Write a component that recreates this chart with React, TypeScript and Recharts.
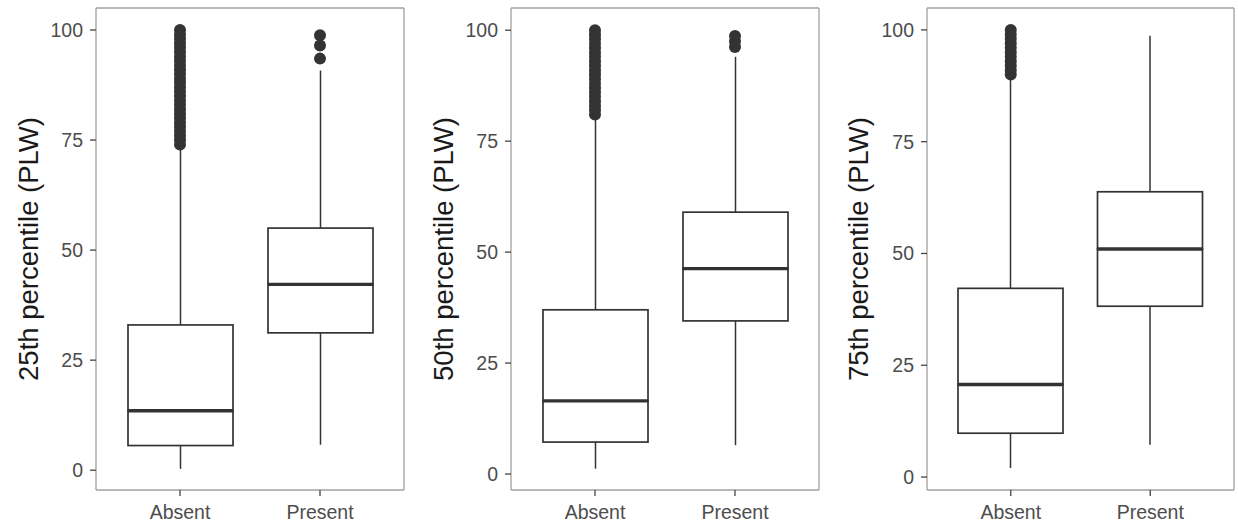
import { ComposedChart, Bar, Scatter, XAxis, YAxis } from "recharts";

const CATEGORIES = ["Absent", "Present"];
const Y_TICKS = [0, 25, 50, 75, 100];

// 25th percentile panel
const P25_LOWER = [0.3, 5.8];
const P25_Q1 = [5.6, 31.2];
const P25_MEDIAN = [13.5, 42.2];
const P25_Q3 = [33, 55];
const P25_UPPER = [73, 90.8];
const P25_OUT_ABSENT = [74, 75, 76, 77, 78, 79, 80, 81, 82, 83, 84, 85, 86, 87, 88, 89, 90, 91, 92, 93, 94, 95, 96, 97, 98, 99, 100];
const P25_OUT_PRESENT = [93.5, 96.5, 98.8];

// 50th percentile panel
const P50_LOWER = [1.2, 6.5];
const P50_Q1 = [7.2, 34.5];
const P50_MEDIAN = [16.5, 46.3];
const P50_Q3 = [37, 59];
const P50_UPPER = [80.5, 94];
const P50_OUT_ABSENT = [81, 82, 83, 84, 85, 86, 87, 88, 89, 90, 91, 92, 93, 94, 95, 96, 97, 98, 99, 100];
const P50_OUT_PRESENT = [96.2, 97.5, 98.7];

// 75th percentile panel
const P75_LOWER = [2, 7.2];
const P75_Q1 = [9.8, 38.2];
const P75_MEDIAN = [20.7, 51];
const P75_Q3 = [42.2, 63.8];
const P75_UPPER = [89.3, 98.7];
const P75_OUT_ABSENT = [90, 91, 92, 93, 94, 95, 96, 97, 98, 99, 100];
const P75_OUT_PRESENT: number[] = [];

const INK = "#333333";
const FRAME = "#a0a0a0";
const TICK = "#444444";
const FONT = "'Liberation Sans', Arial, sans-serif";

function buildRows(lower: number[], q1: number[], med: number[], q3: number[], upper: number[]) {
    return CATEGORIES.map((cat, i) => ({
        cat,
        base: lower[i],
        lowWhisker: q1[i] - lower[i],
        lowBox: med[i] - q1[i],
        highBox: q3[i] - med[i],
        highWhisker: upper[i] - q3[i],
    }));
}

function buildOutliers(absent: number[], present: number[]) {
    return [
        ...absent.map((v) => ({ cat: "Absent", v })),
        ...present.map((v) => ({ cat: "Present", v })),
    ];
}

const Hidden = () => <g />;

const Whisker = (props: any) => {
    const { x, y, width, height } = props;
    const cx = x + width / 2;
    return <line x1={cx} x2={cx} y1={y} y2={y + height} stroke={INK} strokeWidth={1.5} />;
};

const LowerBox = (props: any) => {
    const { x, y, width, height } = props;
    return <rect x={x} y={y} width={width} height={height} fill="#fff" stroke={INK} strokeWidth={1.7} />;
};

const UpperBox = (props: any) => {
    const { x, y, width, height } = props;
    return (
        <g>
            <rect x={x} y={y} width={width} height={height} fill="#fff" stroke={INK} strokeWidth={1.7} />
            <line x1={x} x2={x + width} y1={y + height} y2={y + height} stroke={INK} strokeWidth={3.3} />
        </g>
    );
};

const Dot = (props: any) => <circle cx={props.cx} cy={props.cy} r={6} fill={INK} />;

interface PanelProps {
    left: number;
    width: number;
    axisWidth: number;
    rightGap: number;
    domain: [number, number];
    title: string;
    rows: ReturnType<typeof buildRows>;
    outliers: { cat: string; v: number }[];
}

function Panel({ left, width, axisWidth, rightGap, domain, title, rows, outliers }: PanelProps) {
    const tickStyle = { fill: "#4d4d4d", fontSize: 19.5, fontFamily: FONT };
    const frameLine = { stroke: FRAME, strokeWidth: 1.3 };
    return (
        <div style={{ position: "absolute", left, top: 0 }}>
            <ComposedChart
                width={width}
                height={526}
                data={rows}
                margin={{ top: 7, right: rightGap - 1, bottom: 0, left: 0 }}
            >
                <XAxis
                    dataKey="cat"
                    allowDuplicatedCategory={false}
                    padding={{ left: 14, right: 14 }}
                    axisLine={frameLine}
                    tickLine={{ stroke: TICK, strokeWidth: 1.3 }}
                    tickSize={6}
                    tickMargin={9}
                    height={36}
                    tick={tickStyle}
                />
                {/* top and right axes only close the panel frame */}
                <XAxis
                    xAxisId="top"
                    orientation="top"
                    dataKey="cat"
                    allowDuplicatedCategory={false}
                    height={1}
                    tick={false}
                    tickLine={false}
                    axisLine={frameLine}
                />
                <YAxis
                    type="number"
                    domain={domain}
                    ticks={Y_TICKS}
                    allowDataOverflow
                    width={axisWidth}
                    axisLine={frameLine}
                    tickLine={{ stroke: TICK, strokeWidth: 1.3 }}
                    tickSize={6}
                    tickMargin={7}
                    tick={tickStyle}
                    label={{
                        value: title,
                        angle: -90,
                        position: "insideLeft",
                        offset: 28,
                        style: { textAnchor: "middle", fill: "#1a1a1a", fontSize: 27.5, fontFamily: FONT },
                    }}
                />
                <YAxis
                    yAxisId="right"
                    orientation="right"
                    type="number"
                    domain={domain}
                    allowDataOverflow
                    width={1}
                    tick={false}
                    tickLine={false}
                    axisLine={frameLine}
                />
                <Bar dataKey="base" xAxisId="top" yAxisId="right" shape={Hidden} isAnimationActive={false} />
                <Bar dataKey="base" stackId="box" barSize={105} shape={Hidden} isAnimationActive={false} />
                <Bar dataKey="lowWhisker" stackId="box" barSize={105} shape={Whisker} isAnimationActive={false} />
                <Bar dataKey="lowBox" stackId="box" barSize={105} shape={LowerBox} isAnimationActive={false} />
                <Bar dataKey="highBox" stackId="box" barSize={105} shape={UpperBox} isAnimationActive={false} />
                <Bar dataKey="highWhisker" stackId="box" barSize={105} shape={Whisker} isAnimationActive={false} />
                <Scatter data={outliers} dataKey="v" shape={Dot} isAnimationActive={false} />
            </ComposedChart>
        </div>
    );
}

export default function App() {
    return (
        <div style={{ position: "absolute", left: 0, top: 0, width: 1238, height: 526, background: "#fff" }}>
            <Panel
                left={0}
                width={415}
                axisWidth={96}
                rightGap={11}
                domain={[-4.5, 105]}
                title="25th percentile (PLW)"
                rows={buildRows(P25_LOWER, P25_Q1, P25_MEDIAN, P25_Q3, P25_UPPER)}
                outliers={buildOutliers(P25_OUT_ABSENT, P25_OUT_PRESENT)}
            />
            <Panel
                left={415}
                width={415}
                axisWidth={96}
                rightGap={11}
                domain={[-3.6, 105]}
                title="50th percentile (PLW)"
                rows={buildRows(P50_LOWER, P50_Q1, P50_MEDIAN, P50_Q3, P50_UPPER)}
                outliers={buildOutliers(P50_OUT_ABSENT, P50_OUT_PRESENT)}
            />
            <Panel
                left={830}
                width={408}
                axisWidth={97}
                rightGap={4}
                domain={[-2.9, 104.9]}
                title="75th percentile (PLW)"
                rows={buildRows(P75_LOWER, P75_Q1, P75_MEDIAN, P75_Q3, P75_UPPER)}
                outliers={buildOutliers(P75_OUT_ABSENT, P75_OUT_PRESENT)}
            />
        </div>
    );
}
